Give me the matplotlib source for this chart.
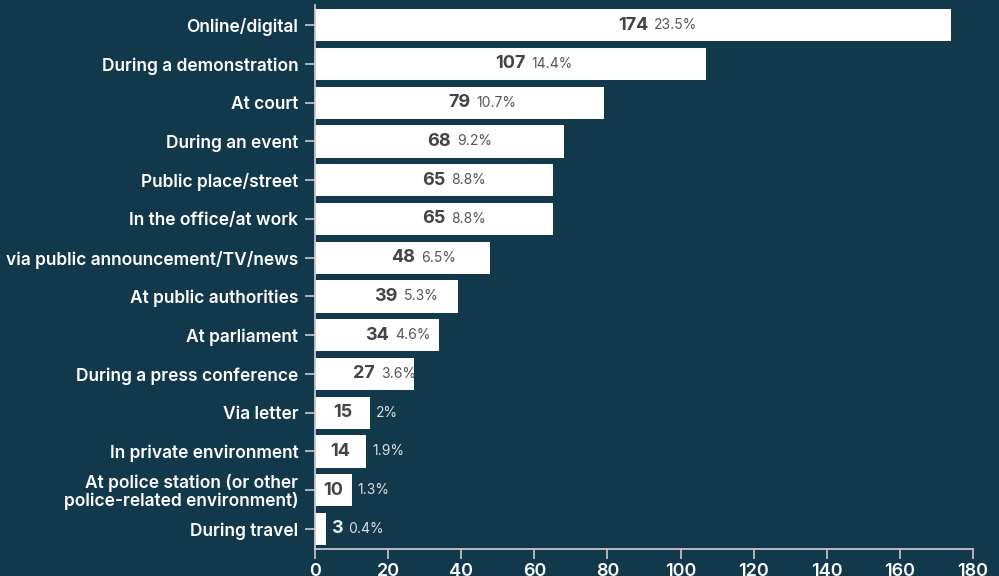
import matplotlib
matplotlib.use("Agg")
import matplotlib.pyplot as plt

categories = [
    "Online/digital",
    "During a demonstration",
    "At court",
    "During an event",
    "Public place/street",
    "In the office/at work",
    "via public announcement/TV/news",
    "At public authorities",
    "At parliament",
    "During a press conference",
    "Via letter",
    "In private environment",
    "At police station (or other\npolice-related environment)",
    "During travel",
]
counts = [174, 107, 79, 68, 65, 65, 48, 39, 34, 27, 15, 14, 10, 3]
percents = ["23.5%", "14.4%", "10.7%", "9.2%", "8.8%", "8.8%", "6.5%",
            "5.3%", "4.6%", "3.6%", "2%", "1.9%", "1.3%", "0.4%"]
xticks = [0, 20, 40, 60, 80, 100, 120, 140, 160, 180]

bg = "#11384b"
spine_col = "#c8c8c8"
plt.rcParams["font.family"] = ["Inter", "DejaVu Sans"]

fig = plt.figure(figsize=(9.99, 5.76), dpi=100, facecolor=bg)
ax = fig.add_axes([0.3153, 0.0469, 0.974 - 0.3153, 0.991 - 0.0469])
ax.set_facecolor(bg)

ypos = list(range(len(categories)))
ax.barh(ypos, counts, height=0.83, color="white")
ax.set_xlim(0, 180)
ax.set_ylim(len(categories) - 1 + 0.516, -0.516)

ax.set_yticks(ypos)
ax.set_yticklabels(categories, color="white", fontsize=12.5, fontweight="semibold",
                   linespacing=1.0)
ax.set_xticks(xticks)
ax.set_xticklabels([str(t) for t in xticks], color="white", fontsize=13,
                   fontweight="semibold")
ax.tick_params(axis="y", length=7, width=1.2, color=spine_col, pad=5)
ax.tick_params(axis="x", length=7, width=1.2, color=spine_col, pad=3)
for s in ["top", "right"]:
    ax.spines[s].set_visible(False)
for s in ["left", "bottom"]:
    ax.spines[s].set_color(spine_col)
    ax.spines[s].set_linewidth(1.3)

# count labels: centred in the bar, pushed outside when the bar is too short
count_texts = []
for i, v in enumerate(counts):
    inside = v >= 8
    xc = v / 2 if inside else 5.9
    col = "#444444" if inside else "#eeeeee"
    t = ax.text(xc, i, str(v), ha="center", va="center", fontsize=13,
                fontweight="bold", color=col)
    count_texts.append(t)

fig.canvas.draw()
r = fig.canvas.get_renderer()
inv = ax.transData.inverted()
for i, (v, p, t) in enumerate(zip(counts, percents, count_texts)):
    bb = t.get_window_extent(r)
    bar_end = ax.transData.transform((v, i))[0]
    if v > 20:
        start = bb.x1 + 6
        col = "#555555"
    else:
        start = max(bb.x1, bar_end) + 6
        col = "#dddddd"
    xd = inv.transform((start, 0))[0]
    ax.text(xd, i, p, ha="left", va="center", fontsize=10, color=col)

fig.savefig("out.png", dpi=100, facecolor=bg)
